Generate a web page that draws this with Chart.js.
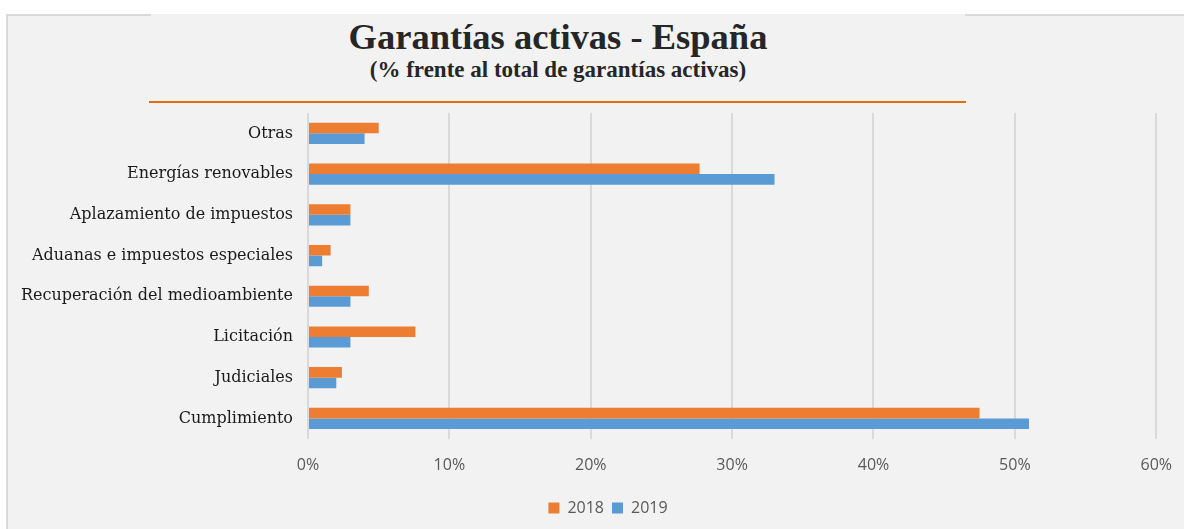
<!DOCTYPE html>
<html lang="es">
<head>
  <meta charset="UTF-8"/>
  <title>Garantías activas - España</title>
  <script src="https://cdn.jsdelivr.net/npm/chart.js"></script>
  <style>
    body{margin:0;padding:0;background:#fff;width:1184px;height:529px;overflow:hidden;position:relative;}
    #panel{position:absolute;left:6px;top:14px;width:1176px;height:515px;background:#f2f2f2;
      border-left:2px solid #d9d9d9;border-top:2px solid #d9d9d9;border-right:2px solid #e6e6e6;}
    #titleBox{position:absolute;left:151px;top:14px;width:814px;height:4px;background:#f2f2f2;}
    .ttl{position:absolute;left:151px;width:814px;text-align:center;font-family:'Liberation Serif',serif;font-weight:bold;color:#262626;line-height:normal;}
    #t1{top:15px;font-size:36.5px;}
    #t2{top:57px;font-size:23px;}
    #rule{position:absolute;left:149px;top:101px;width:817px;height:2px;background:#e36c0a;}
    #wrap{position:absolute;left:0;top:0;width:1184px;height:529px;overflow:hidden;}
  </style>
</head>
<body>
<div id="panel"></div>
<div id="titleBox"></div>
<div id="t1" class="ttl">Garantías activas - España</div>
<div id="t2" class="ttl">(% frente al total de garantías activas)</div>
<div id="rule"></div>
<div id="wrap"><canvas id="chart" width="1189" height="529"></canvas></div>

<script>
  // data (percent of total active guarantees)
  const categories=["Otras","Energías renovables","Aplazamiento de impuestos","Aduanas e impuestos especiales",
    "Recuperación del medioambiente","Licitación","Judiciales","Cumplimiento"];
  const values2018=[5,27.7,3,1.6,4.3,7.6,2.4,47.5];
  const values2019=[4,33,3,1,3,3,2,51];
  const xTicks=[0,10,20,30,40,50,60];

  const padL=6;
  // legend sits a little right of centre in the original
  const shiftLegend={id:'shiftLegend',afterLayout(c){if(c.legend){c.legend.left+=12;c.legend.right+=12;}}};

  const chart=new Chart(document.getElementById('chart'),{
    type:'bar',
    data:{labels:categories,datasets:[
      {label:'2018',data:values2018,backgroundColor:'#ed7d31',borderWidth:0},
      {label:'2019',data:values2019,backgroundColor:'#5b9bd5',borderWidth:0}
    ]},
    options:{
      indexAxis:'y',responsive:false,animation:false,
      layout:{padding:{left:padL,right:3,top:113,bottom:3}},
      categoryPercentage:0.52,barPercentage:1,
      scales:{
        x:{min:0,max:60,
          afterBuildTicks:s=>{s.ticks=xTicks.map(v=>({value:v}));},
          grid:{color:'#d9d9d9',lineWidth:2,drawTicks:false},
          border:{display:false},
          ticks:{padding:17,color:'#595959',font:{family:"'Open Sans', sans-serif",size:16},callback:v=>v+'%'}
        },
        y:{grid:{display:false},border:{display:false},
          afterFit:s=>{s.width=308-padL;},
          ticks:{padding:7,color:'#1a1a1a',font:{family:"'DejaVu Serif', serif",size:16}}
        }
      },
      plugins:{
        legend:{position:'bottom',
          labels:{boxWidth:11,boxHeight:11,padding:8,color:'#595959',font:{family:"'Open Sans', sans-serif",size:16}}},
        tooltip:{enabled:false}
      }
    },
    plugins:[shiftLegend]
  });
</script>
</body>
</html>
